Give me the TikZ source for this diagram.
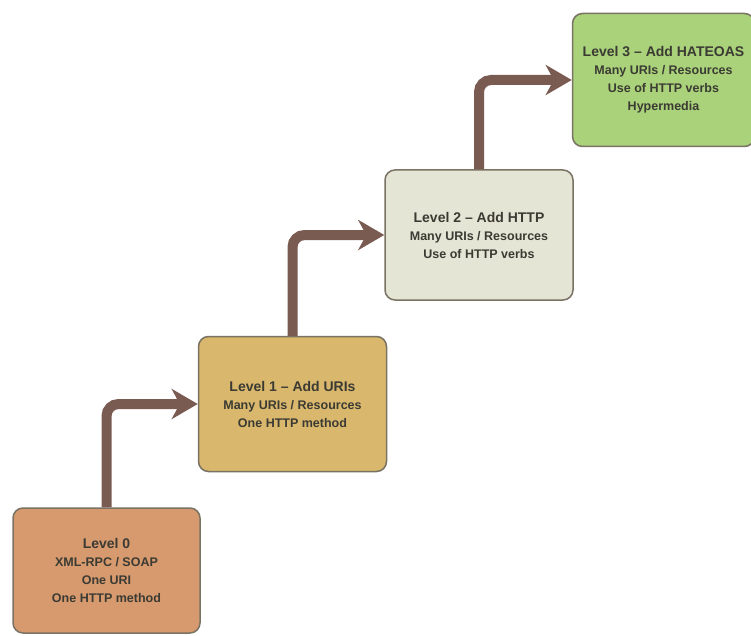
\documentclass[tikz,border=0pt]{standalone}
\usepackage{fontspec}
\setmainfont{Liberation Sans}
\usepackage{xcolor}
\usepackage{tikz}
\usetikzlibrary{arrows.meta,positioning}
\definecolor{lvlzero}{HTML}{D69A6E}
\definecolor{lvlone}{HTML}{D9B76D}
\definecolor{lvltwo}{HTML}{E5E5D5}
\definecolor{lvlthree}{HTML}{A9D27A}
\definecolor{rim}{HTML}{7A7263}
\definecolor{stair}{HTML}{7A5B51}
\definecolor{ink}{HTML}{3B3A33}
\newcommand{\lvltitle}[1]{{\fontsize{14}{18}\selectfont #1}\\}

\begin{document}
\begin{tikzpicture}[x=1pt, y=-1pt,
  box/.style={draw=rim, line width=1.5pt, rounded corners=10pt, align=center,
              text=ink, font=\bfseries\fontsize{12.5}{18}\selectfont,
              minimum width=188pt, inner sep=4pt},
  arr/.style={draw=stair, line width=10pt, rounded corners=12pt,
              -{Stealth[length=26pt, width=30pt, inset=8pt]}},
  node distance=35pt and -3pt
]
\useasboundingbox (0,0) rectangle (751,636);
\node[box, fill=lvlzero, minimum height=125pt, minimum width=187pt] (lvl0) at (106.5,570.5)
  {\lvltitle{Level 0}XML-RPC / SOAP\\ One URI\\ One HTTP method};
\node[box, fill=lvlone, minimum height=135pt, above right=of lvl0] (lvl1)
  {\lvltitle{Level 1 -- Add URIs}Many URIs / Resources\\ One HTTP method};
\node[box, fill=lvltwo, minimum height=130pt, above right=of lvl1] (lvl2)
  {\lvltitle{Level 2 -- Add HTTP}Many URIs / Resources\\ Use of HTTP verbs};
\node[box, fill=lvlthree, minimum height=133pt, minimum width=182pt,
      above right=22pt and -2pt of lvl2] (lvl3)
  {\lvltitle{Level 3 -- Add HATEOAS}Many URIs / Resources\\ Use of HTTP verbs\\ Hypermedia};
\draw[arr] (lvl0.north) |- (lvl1.west);
\draw[arr] (lvl1.north) |- (lvl2.west);
\draw[arr] (lvl2.north) |- (lvl3.west);
\end{tikzpicture}
\end{document}
